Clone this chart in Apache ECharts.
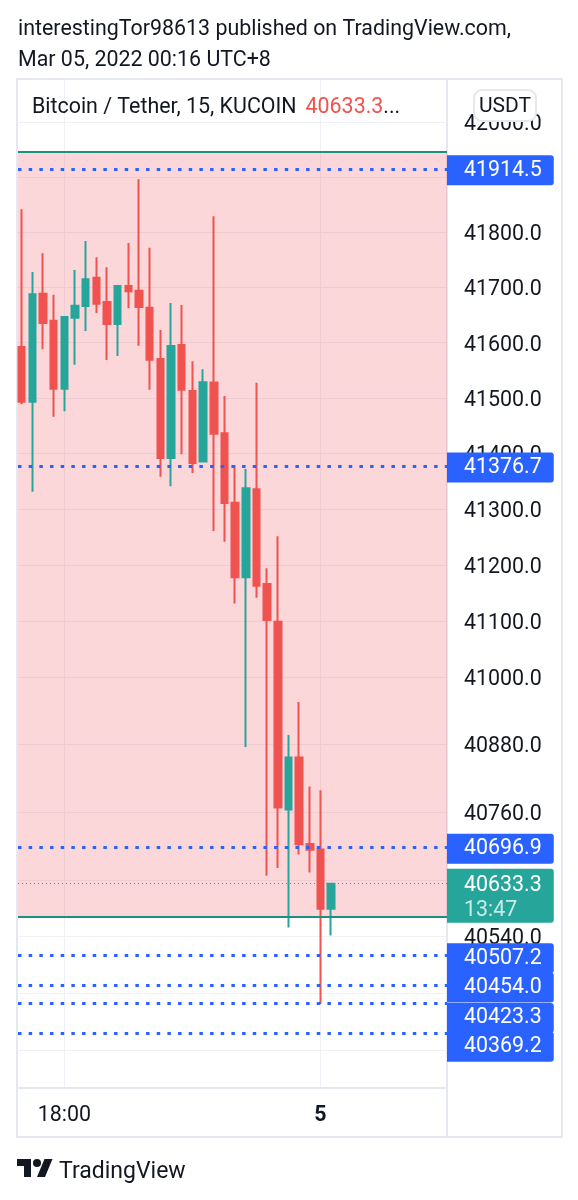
<!DOCTYPE html>
<html>
<head>
<meta charset="utf-8">
<title>BTCUSDT 15</title>
<style>
  html, body { margin: 0; padding: 0; background: #ffffff; }
  #chart { width: 578px; height: 1200px; }
</style>
</head>
<body>
<div id="chart"></div>
<script src="https://cdn.jsdelivr.net/npm/echarts@6/dist/echarts.min.js"></script>
<script>
// 15 minute bars, Mar 04 17:00 -> Mar 05 00:15
const times = ["17:00","17:15","17:30","17:45","18:00","18:15","18:30","18:45","19:00","19:15",
  "19:30","19:45","20:00","20:15","20:30","20:45","21:00","21:15","21:30","21:45",
  "22:00","22:15","22:30","22:45","23:00","23:15","23:30","23:45","00:00","00:15"];
const opens = [41592.2,41493.5,41688.7,41639.8,41516.9,41645.2,41666.4,41717.7,41673.7,41633.8,
  41702.7,41694.1,41663.4,41570.5,41392.1,41595.9,41512.8,41385.5,41528.1,41436.5,
  41311.7,41178.1,41335.8,41166.0,41098.7,40764.4,40856.6,40703.6,40693.6,40588.9];
const closes = [41493.5,41687.6,41635.6,41516.9,41646.5,41666.9,41714.8,41670.6,41633.8,41702.7,
  41693.0,41664.6,41569.2,41392.1,41594.0,41515.1,41383.1,41528.5,41435.8,41311.2,
  41178.1,41337.6,41163.0,41101.7,40767.9,40856.6,40703.2,40693.1,40588.9,40633.3];
const lows = [41488.7,41331.5,41588.0,41466.4,41476.2,41560.2,41621.1,41653.7,41568.7,41576.0,
  41662.3,41594.6,41515.1,41358.5,41341.2,41398.8,41365.1,41385.5,41261.0,41241.8,
  41130.9,40875.6,41141.6,40647.1,40660.8,40556.0,40684.8,40652.9,40421.3,40541.9];
const highs = [41841.9,41728.0,41762.0,41686.9,41648.3,41731.7,41784.3,41754.7,41736.5,41702.7,
  41780.7,41896.4,41772.1,41622.9,41671.8,41668.2,41566.4,41551.9,41829.1,41503.8,
  41379.5,41372.3,41527.8,41194.2,41251.5,40896.9,40955.5,40805.1,40798.8,40634.0];

const priceTicks = [42000,41900,41800,41700,41600,41500,41400,41300,41200,41100,41000,40880,40760,40640,40540,40440,40340];
const timeTicks = [4, 28];
const timeTickLabels = { 4: "18:00", 28: "5" };

const bandTop = 41946.2;
const bandBottom = 40575.3;
const levels = [41914.5,41376.7,40696.9,40507.2,40454.0,40423.3,40369.2];
const levelTagShift = [1,1,1,3,2,15,13];
const lastPrice = 40633.3;
const countdown = "13:47";

const font = "Roboto";
const inkColor = "#131722";
const upColor = "#26a69a";
const downColor = "#ef5350";
const levelColor = "#2962ff";
const gridColor = "#eff1f6";
const frameColor = "#e6e8ef";

const xMin = -0.347, xMax = 39.86;

const candles = times.map((t, i) => [i, opens[i], closes[i], lows[i], highs[i]]);

const levelLines = levels.map(v => ({
  yAxis: v,
  lineStyle: { color: levelColor, width: 3, type: [3.5, 7.17] }
}));

const tagData = levels.map((v, i) => ({
  value: [xMax, v],
  label: {
    formatter: v.toFixed(1),
    offset: [0, levelTagShift[i]]
  }
}));

const chart = echarts.init(document.getElementById("chart"));
chart.setOption({
  animation: false,
  backgroundColor: "#ffffff",
  textStyle: { fontFamily: font },
  title: [
    { text: "interestingTor98613 published on TradingView.com,", left: 18, top: 19, padding: 0,
      textStyle: { fontFamily: font, fontSize: 21.4, fontWeight: "normal", color: inkColor } },
    { text: "Mar 05, 2022 00:16 UTC+8", left: 18, top: 50, padding: 0,
      textStyle: { fontFamily: font, fontSize: 21.4, fontWeight: "normal", color: inkColor } },
    { text: "{a|Bitcoin / Tether, 15, KUCOIN}  {b|40633.3}{a|...}", left: 32, top: 97, padding: 0, z: 8,
      textStyle: { fontWeight: "normal", rich: {
        a: { fontFamily: font, fontSize: 21.4, fontWeight: "normal", color: inkColor },
        b: { fontFamily: font, fontSize: 21.4, fontWeight: "normal", color: downColor }
      } } },
    { text: "TradingView", left: 59, top: 1161, padding: 0,
      textStyle: { fontFamily: font, fontSize: 23, fontWeight: "normal", color: inkColor } }
  ],
  grid: { left: 18, right: 131, top: 80, height: 1008, containLabel: false },
  xAxis: {
    type: "value",
    min: xMin,
    max: xMax,
    axisLine: { show: true, onZero: false, lineStyle: { color: frameColor, width: 2 } },
    axisTick: { show: false, customValues: timeTicks },
    splitLine: { show: true, lineStyle: { color: gridColor, width: 1 } },
    axisLabel: {
      customValues: timeTicks,
      margin: 17,
      formatter: v => v === 28 ? "{bold|" + timeTickLabels[v] + "}" : timeTickLabels[v],
      fontFamily: font, fontSize: 21.4, color: inkColor,
      rich: { bold: { fontFamily: font, fontSize: 21.4, fontWeight: "bold", color: inkColor } }
    }
  },
  yAxis: {
    type: "log",
    logBase: 10,
    position: "right",
    min: 40274.1,
    max: 42077.6,
    axisLine: { show: true, onZero: false, lineStyle: { color: frameColor, width: 2 } },
    axisTick: { show: false, customValues: priceTicks },
    splitLine: { show: true, lineStyle: { color: gridColor, width: 1 } },
    axisLabel: {
      customValues: priceTicks,
      margin: 17,
      // the reference text sits a little under its grid line
      verticalAlign: "top",
      lineHeight: 5,
      formatter: v => v.toFixed(1),
      fontFamily: font, fontSize: 21.4, color: inkColor
    }
  },
  series: [
    {
      type: "candlestick",
      data: candles,
      barWidth: 7,
      itemStyle: {
        color: upColor, color0: downColor,
        borderColor: upColor, borderColor0: downColor,
        borderWidth: 2
      },
      markArea: {
        silent: true,
        itemStyle: { color: "rgba(242,54,69,0.2)" },
        data: [[{ yAxis: bandTop }, { yAxis: bandBottom }]]
      },
      markLine: {
        silent: true,
        symbol: "none",
        label: { show: false },
        data: [
          { yAxis: bandTop, lineStyle: { color: "#1d8f82", width: 2, type: "solid" } },
          { yAxis: bandBottom, lineStyle: { color: "#1d8f82", width: 2, type: "solid" } },
          { yAxis: lastPrice, lineStyle: { color: upColor, width: 1, type: [1, 3] } }
        ].concat(levelLines)
      }
    },
    {
      // price tags on the scale
      type: "scatter",
      clip: false,
      symbolSize: 0,
      silent: true,
      z: 10,
      itemStyle: { opacity: 1 },
      data: tagData,
      label: {
        show: true,
        position: "right",
        distance: 0,
        fontFamily: font,
        fontSize: 21.4,
        color: "#ffffff",
        opacity: 1,
        backgroundColor: levelColor,
        borderRadius: [0, 3, 3, 0],
        lineHeight: 26,
        padding: [4, 12, 0, 17]
      }
    },
    {
      type: "scatter",
      clip: false,
      symbolSize: 0,
      silent: true,
      z: 10,
      itemStyle: { opacity: 1 },
      data: [{
        value: [xMax, lastPrice],
        label: {
          formatter: "{p|" + lastPrice.toFixed(1) + "}\n{t|" + countdown + "}",
          offset: [0, 12]
        }
      }],
      label: {
        show: true,
        position: "right",
        distance: 0,
        opacity: 1,
        backgroundColor: upColor,
        borderRadius: [0, 3, 3, 0],
        padding: [4, 12, 0, 17],
        rich: {
          p: { fontFamily: font, fontSize: 21.4, color: "#ffffff", lineHeight: 26 },
          t: { fontFamily: font, fontSize: 21.4, color: "#c9ebe7", lineHeight: 24 }
        }
      }
    }
  ],
  graphic: [
    { type: "rect", silent: true, z: -1, shape: { x: 17, y: 79, width: 545, height: 1058 },
      style: { fill: "none", stroke: frameColor, lineWidth: 2 } },
    { type: "line", silent: true, shape: { x1: 447, y1: 1088, x2: 447, y2: 1137 },
      style: { stroke: frameColor, lineWidth: 2 } },
    { type: "rect", silent: true, z: 20, shape: { x: 474, y: 90, width: 62, height: 31, r: 8 },
      style: { fill: "#ffffff", stroke: frameColor, lineWidth: 2 } },
    { type: "text", silent: true, z: 21, x: 505, y: 107,
      style: { text: "USDT", fontFamily: font, fontSize: 21, fill: inkColor, align: "center", verticalAlign: "middle" } },
    // TradingView mark
    { type: "group", silent: true, x: 17, y: 1155, children: [
      { type: "polygon", shape: { points: [[0,4],[14,4],[14,22],[7,22],[7,11],[0,11]] }, style: { fill: inkColor } },
      { type: "polygon", shape: { points: [[20,22],[28,22],[35.5,4],[27.5,4]] }, style: { fill: inkColor } },
      { type: "circle", shape: { cx: 20, cy: 8, r: 4 }, style: { fill: inkColor } }
    ] }
  ]
});
</script>
</body>
</html>
